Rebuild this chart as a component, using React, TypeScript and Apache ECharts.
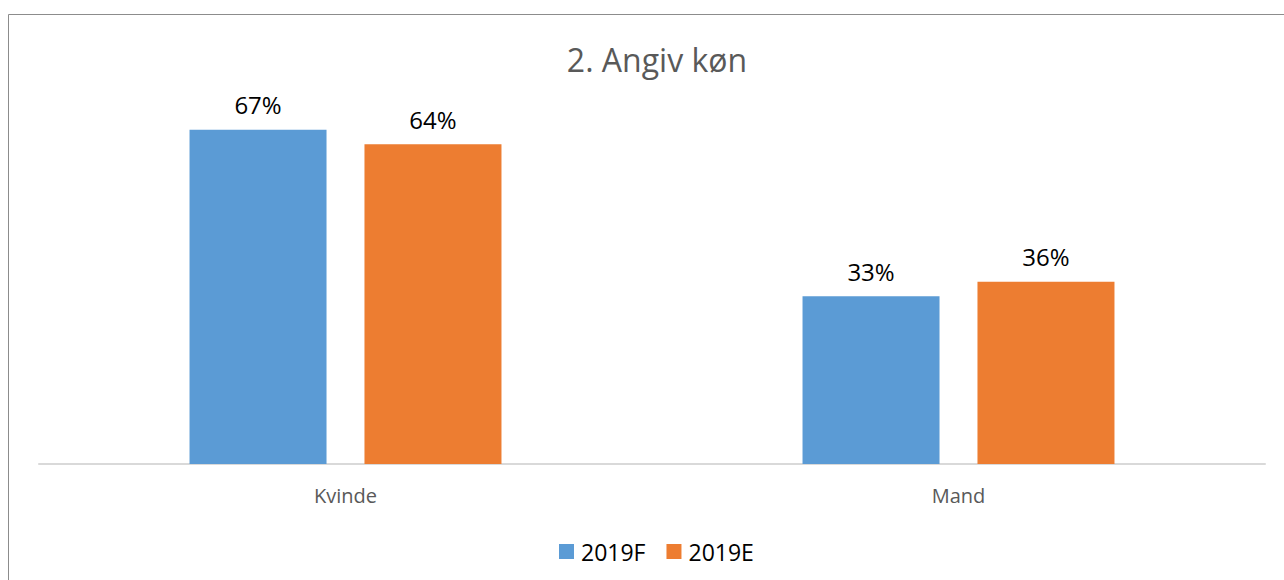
import React, { useEffect, useRef } from "react";
import * as echarts from "echarts";

const categories = ["Kvinde", "Mand"];
const seriesNames = ["2019F", "2019E"];
const values2019F = [0.666, 0.334];
const values2019E = [0.637, 0.363];
const colors = ["#5b9bd5", "#ed7d31"];

export default function App() {
  const ref = useRef<HTMLDivElement>(null);
  useEffect(() => {
    if (!ref.current) return;
    const chart = echarts.init(ref.current, undefined, { renderer: "svg" });
    const font = "'Open Sans', 'Noto Sans', sans-serif";
    const label = {
      show: true,
      position: "top" as const,
      distance: 13,
      color: "#000",
      fontSize: 24,
      fontFamily: font,
      formatter: (p: any) => Math.round(p.value * 100) + "%",
    };
    chart.setOption({
      animation: false,
      backgroundColor: "#fff",
      title: {
        text: "2. Angiv køn",
        left: 652,
        textAlign: "center",
        top: 38,
        textStyle: { color: "#595959", fontSize: 32, fontWeight: "normal", fontFamily: font },
      },
      graphic: [
        {
          type: "rect",
          shape: { x: 8.5, y: 14.5, width: 1400, height: 700 },
          style: { fill: "none", stroke: "#8c8c8c", lineWidth: 1 },
          silent: true,
        },
      ],
      legend: {
        data: seriesNames,
        left: 554,
        top: 535,
        icon: "rect",
        itemWidth: 15,
        itemHeight: 15,
        itemGap: 21,
        textStyle: { color: "#000", fontSize: 23, fontFamily: font, padding: [0, 0, 0, 2] },
      },
      grid: { left: 39, right: 19, top: 112.6, bottom: 116, containLabel: false },
      xAxis: {
        type: "category",
        data: categories,
        axisLine: { show: true, lineStyle: { color: "#d9d9d9", width: 2 } },
        axisTick: { show: false },
        axisLabel: { color: "#595959", fontSize: 20, fontFamily: font, margin: 21 },
      },
      yAxis: {
        type: "value",
        min: 0,
        max: 0.7,
        show: false,
        splitLine: { show: false },
      },
      series: [
        {
          name: seriesNames[0],
          type: "bar",
          data: values2019F,
          itemStyle: { color: colors[0] },
          barWidth: 137,
          barGap: "27.7%",
          label,
        },
        {
          name: seriesNames[1],
          type: "bar",
          data: values2019E,
          itemStyle: { color: colors[1] },
          barWidth: 137,
          barGap: "27.7%",
          label,
        },
      ],
    });
    return () => chart.dispose();
  }, []);
  return (
    <div
      ref={ref}
      style={{ position: "fixed", left: 0, top: 0, width: 1284, height: 580 }}
    />
  );
}
